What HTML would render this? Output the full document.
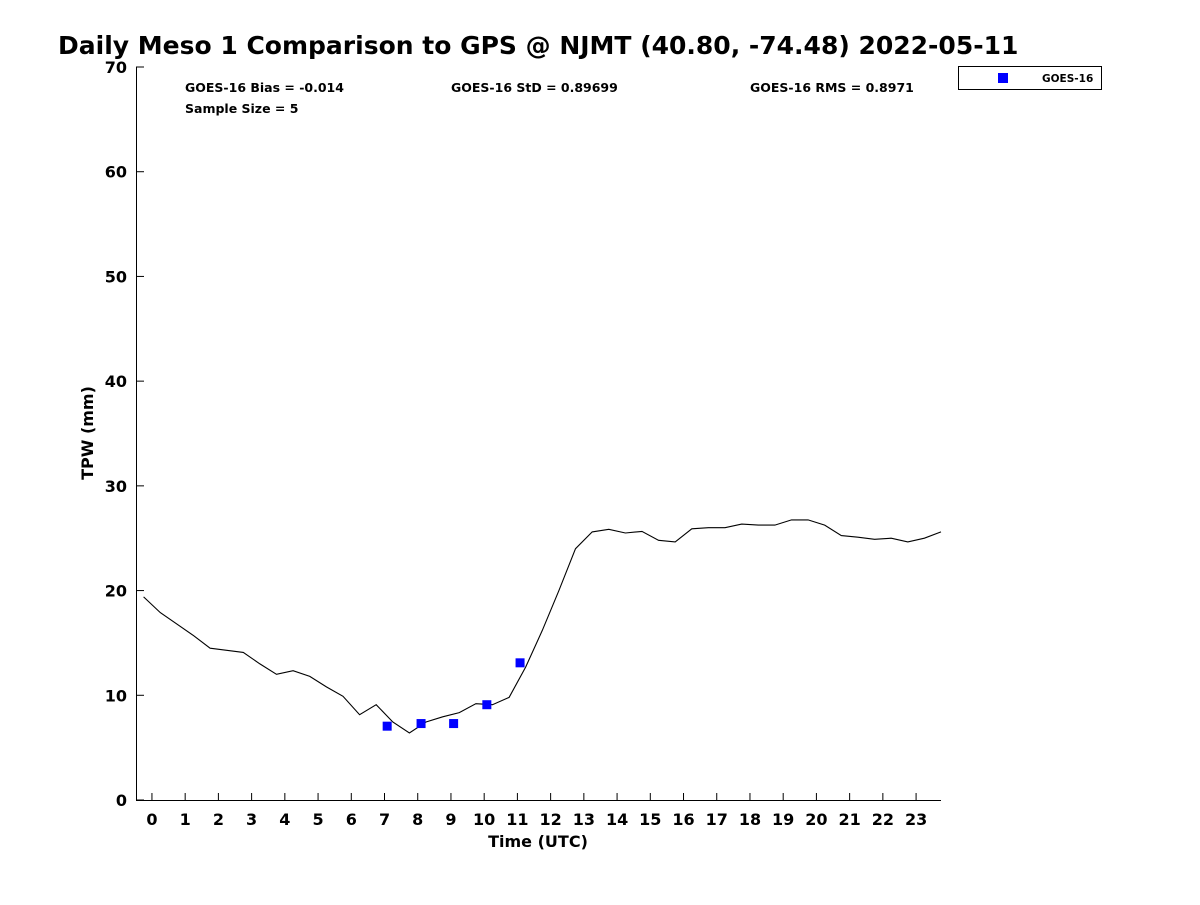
<!DOCTYPE html>
<html><head><meta charset="utf-8"><style>
body{margin:0;background:#fff;}
svg text{font-family:"DejaVu Sans","Liberation Sans",sans-serif;font-weight:bold;fill:#000;}
</style></head><body>
<svg id="chart" width="1200" height="900" xmlns="http://www.w3.org/2000/svg">
<rect width="1200" height="900" fill="#fff"/>
<text x="58" y="54" font-size="25">Daily Meso 1 Comparison to GPS @ NJMT (40.80, -74.48) 2022-05-11</text>
<text x="185" y="92" font-size="12.5">GOES-16 Bias = -0.014</text>
<text x="451" y="92" font-size="12.5">GOES-16 StD = 0.89699</text>
<text x="750" y="92" font-size="12.5">GOES-16 RMS = 0.8971</text>
<text x="185" y="113" font-size="12.5">Sample Size = 5</text>
<g>
<rect x="958.5" y="66.5" width="143" height="23" fill="#fff" stroke="#000" stroke-width="1"/>
<rect x="998" y="73" width="10" height="10" fill="#0000ff"/>
<text x="1042" y="82" font-size="10.5">GOES-16</text>
</g>
<g id="axes"></g>
<g id="marks"></g>
<text x="538" y="847" font-size="16" text-anchor="middle">Time (UTC)</text>
<text transform="translate(93,433) rotate(-90)" font-size="16" text-anchor="middle">TPW (mm)</text>
</svg>
<script>
const gpsHours=[-0.25,0.25,0.75,1.25,1.75,2.25,2.75,3.25,3.75,4.25,4.75,5.25,5.75,6.25,6.75,7.25,7.75,8.25,8.75,9.25,9.75,10.25,10.75,11.25,11.75,12.25,12.75,13.25,13.75,14.25,14.75,15.25,15.75,16.25,16.75,17.25,17.75,18.25,18.75,19.25,19.75,20.25,20.75,21.25,21.75,22.25,22.75,23.25,23.75];
const gpsTPW=[19.4,17.9,16.8,15.7,14.5,14.3,14.1,13.0,12.0,12.35,11.8,10.8,9.9,8.15,9.1,7.45,6.4,7.45,7.95,8.35,9.2,9.1,9.8,12.7,16.2,20.0,24.0,25.6,25.85,25.5,25.65,24.8,24.65,25.9,26.0,26.0,26.35,26.25,26.25,26.75,26.75,26.25,25.25,25.1,24.9,25.0,24.65,25.0,25.6];
const goesHours=[7.08,8.1,9.08,10.08,11.08];
const goesTPW=[7.05,7.3,7.3,9.1,13.1];
const xTicks=[0,1,2,3,4,5,6,7,8,9,10,11,12,13,14,15,16,17,18,19,20,21,22,23];
const yTicks=[0,10,20,30,40,50,60,70];
const X0=136,X1=941,Y0=800,Y1=67,xMin=-0.48,xMax=23.75,yMin=0,yMax=70;
const xs=v=>X0+(v-xMin)/(xMax-xMin)*(X1-X0);
const ys=v=>Y0-(v-yMin)/(yMax-yMin)*(Y0-Y1);
const NS="http://www.w3.org/2000/svg";
const axes=document.getElementById('axes'),marks=document.getElementById('marks');
function mk(tag,attrs,parent){const e=document.createElementNS(NS,tag);for(const k in attrs)e.setAttribute(k,attrs[k]);parent.appendChild(e);return e;}
const xl=mk('line',{x1:X0,y1:Y0+0.5,x2:X1,y2:Y0+0.5,stroke:'#000'},axes);


const yl=mk('line',{x1:X0+0.5,y1:Y1,x2:X0+0.5,y2:Y0,stroke:'#000'},axes);


xTicks.forEach(t=>{const x=xs(t);
mk('line',{x1:x,y1:Y0,x2:x,y2:Y0-7,stroke:'#000'},axes);
const tx=mk('text',{x:x,y:Y0+25,'font-size':16,'text-anchor':'middle',fill:'#222'},axes);tx.textContent=t;

});
yTicks.forEach(t=>{const y=ys(t);
mk('line',{x1:X0,y1:y,x2:X0+8,y2:y,stroke:'#000'},axes);
const tx=mk('text',{x:X0-9,y:y+6,'font-size':16,'text-anchor':'end',fill:'#222'},axes);tx.textContent=t;

});
const pts=gpsHours.map((h,i)=>xs(h).toFixed(1)+','+ys(gpsTPW[i]).toFixed(1)).join(' ');
const pl=mk('polyline',{points:pts,fill:'none',stroke:'#000','stroke-width':1.1},marks);


goesHours.forEach((h,i)=>{const r=mk('rect',{x:xs(h)-4.5,y:ys(goesTPW[i])-4.5,width:9,height:9,fill:'#0000ff'},marks);

});
</script>
</body></html>
